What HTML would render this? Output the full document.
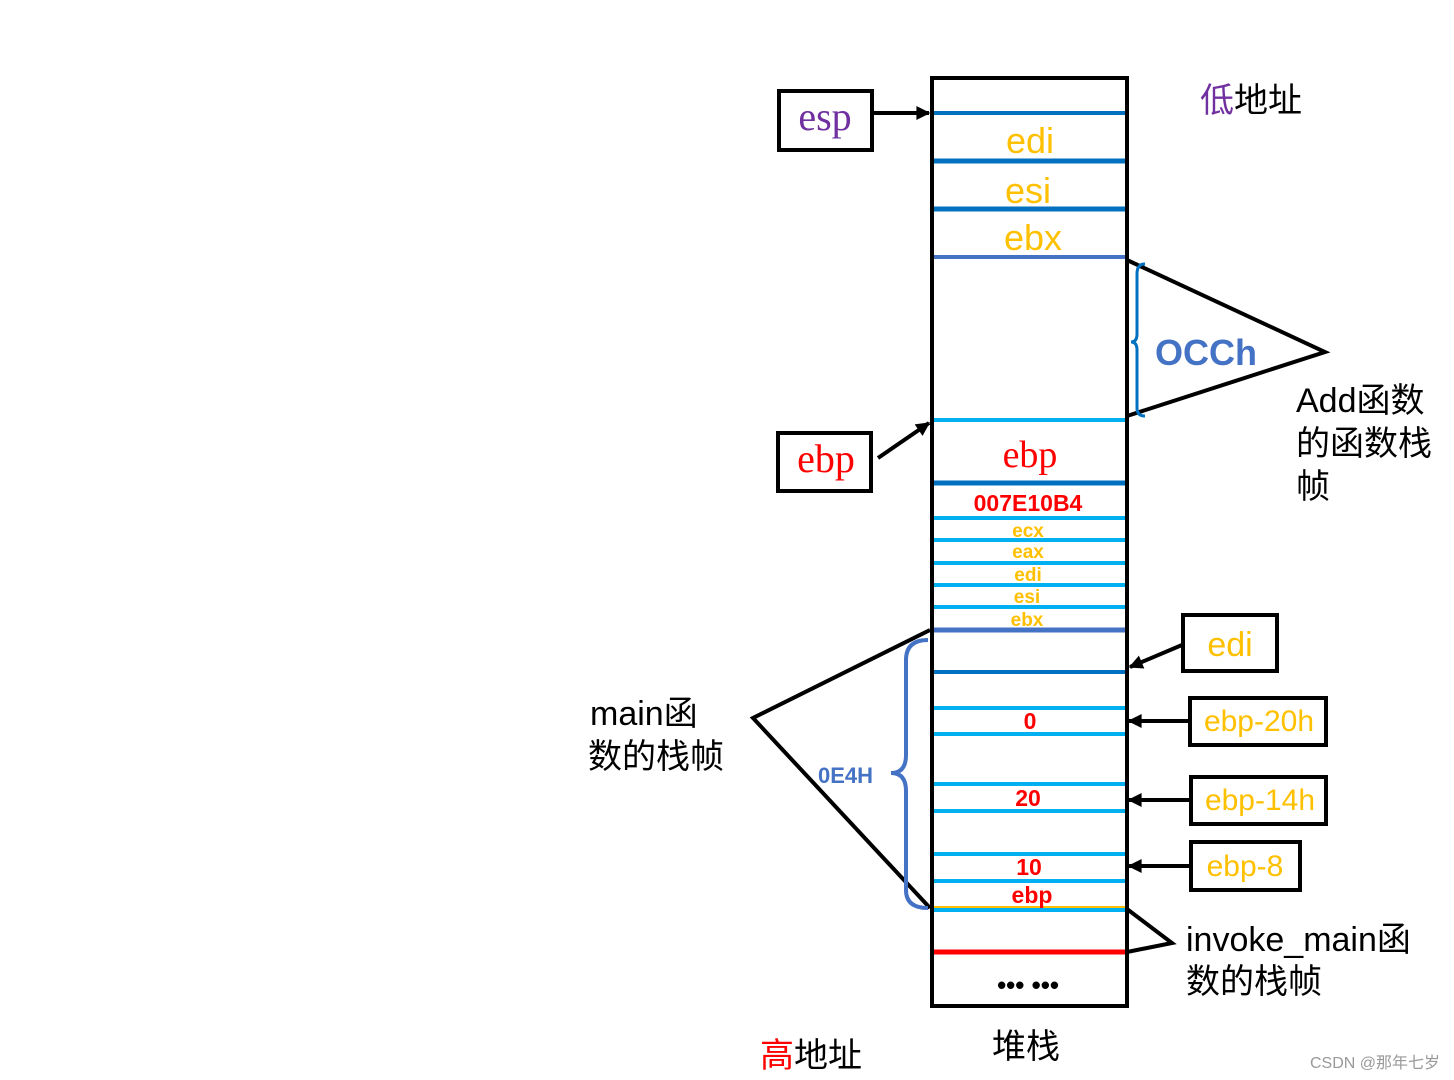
<!DOCTYPE html>
<html><head><meta charset="utf-8"><style>
html,body{margin:0;padding:0;background:#fff;width:1454px;height:1080px;overflow:hidden}
text{font-family:"Liberation Sans","Noto Sans CJK SC",sans-serif}
</style></head><body>
<svg width="1454" height="1080" viewBox="0 0 1454 1080" xmlns="http://www.w3.org/2000/svg">
<defs><marker id="a" markerWidth="8" markerHeight="8" refX="7" refY="4" orient="auto" markerUnits="userSpaceOnUse"><path d="M0,0 L8,4 L0,8 z" fill="#000"/></marker>
<marker id="b" viewBox="0 0 10 10" markerWidth="16" markerHeight="14" refX="9" refY="5" orient="auto" markerUnits="userSpaceOnUse"><path d="M0,0 L10,5 L0,10 z" fill="#000"/></marker></defs>
<!-- stack lines -->
<g stroke-width="4">
<line x1="933" x2="1127" y1="113" y2="113" stroke="#0070c0"/>
<line x1="933" x2="1129" y1="161" y2="161" stroke="#0070c0" stroke-width="5"/>
<line x1="933" x2="1129" y1="209" y2="209" stroke="#0070c0" stroke-width="5"/>
<line x1="933" x2="1127" y1="257" y2="257" stroke="#4472c4"/>
<line x1="933" x2="1127" y1="420" y2="420" stroke="#00b0f0"/>
<line x1="933" x2="1127" y1="483" y2="483" stroke="#0070c0" stroke-width="5"/>
<line x1="933" x2="1127" y1="518" y2="518" stroke="#00b0f0"/>
<line x1="933" x2="1127" y1="540" y2="540" stroke="#00b0f0"/>
<line x1="933" x2="1127" y1="563" y2="563" stroke="#00b0f0"/>
<line x1="933" x2="1127" y1="585" y2="585" stroke="#00b0f0"/>
<line x1="933" x2="1127" y1="607" y2="607" stroke="#00b0f0"/>
<line x1="933" x2="1127" y1="630" y2="630" stroke="#4472c4" stroke-width="5"/>
<line x1="933" x2="1127" y1="672" y2="672" stroke="#0070c0"/>
<line x1="933" x2="1127" y1="708" y2="708" stroke="#00b0f0"/>
<line x1="933" x2="1127" y1="734" y2="734" stroke="#00b0f0"/>
<line x1="933" x2="1127" y1="784" y2="784" stroke="#00b0f0"/>
<line x1="933" x2="1127" y1="811" y2="811" stroke="#00b0f0"/>
<line x1="933" x2="1127" y1="854" y2="854" stroke="#00b0f0"/>
<line x1="933" x2="1127" y1="881" y2="881" stroke="#00b0f0"/>
<line x1="933" x2="1127" y1="907" y2="907" stroke="#ffc000" stroke-width="2"/>
<line x1="933" x2="1127" y1="910" y2="910" stroke="#00b0f0"/>
<line x1="933" x2="1127" y1="952" y2="952" stroke="#ff0000" stroke-width="5"/>
</g>
<rect x="932" y="78" width="195" height="928" fill="none" stroke="#000" stroke-width="4"/>
<!-- stack texts -->
<g fill="#ffc000" font-size="36" text-anchor="middle">
<text x="1030" y="153">edi</text><text x="1028" y="203">esi</text><text x="1033" y="250">ebx</text>
</g>
<text x="1030" y="467" font-size="38" fill="#ff0000" text-anchor="middle" font-family="Liberation Serif,serif" style="font-family:'Liberation Serif',serif">ebp</text>
<text x="1028" y="511" font-size="23" font-weight="bold" fill="#ff0000" text-anchor="middle">007E10B4</text>
<g fill="#ffc000" font-size="19" font-weight="bold" text-anchor="middle">
<text x="1028" y="537">ecx</text><text x="1028" y="558">eax</text><text x="1028" y="581">edi</text><text x="1027" y="603">esi</text><text x="1027" y="626">ebx</text>
</g>
<g fill="#ff0000" font-size="23" font-weight="bold" text-anchor="middle">
<text x="1030" y="729">0</text><text x="1028" y="806">20</text><text x="1029" y="875">10</text><text x="1032" y="903">ebp</text>
</g>
<text x="1028" y="994" font-size="26" font-weight="bold" text-anchor="middle" fill="#000">••• •••</text>
<!-- left boxes -->
<rect x="779" y="91" width="93" height="59" fill="none" stroke="#000" stroke-width="4"/>
<text x="825" y="130" font-size="40" fill="#7030a0" text-anchor="middle" style="font-family:'Liberation Serif',serif">esp</text>
<line x1="873" y1="113" x2="929" y2="113" stroke="#000" stroke-width="4" marker-end="url(#b)"/>
<rect x="778" y="433" width="93" height="58" fill="none" stroke="#000" stroke-width="4"/>
<text x="826" y="472" font-size="40" fill="#ff0000" text-anchor="middle" style="font-family:'Liberation Serif',serif">ebp</text>
<line x1="878" y1="458" x2="929" y2="423" stroke="#000" stroke-width="4" marker-end="url(#b)"/>
<!-- right boxes -->
<g fill="none" stroke="#000" stroke-width="4">
<rect x="1183" y="615" width="94" height="56"/>
<rect x="1190" y="698" width="136" height="47"/>
<rect x="1191" y="777" width="135" height="47"/>
<rect x="1191" y="842" width="109" height="48"/>
</g>
<g fill="#ffc000" font-size="30">
<text x="1230" y="656" text-anchor="middle" font-size="34">edi</text>
<text x="1259" y="731" text-anchor="middle">ebp-20h</text>
<text x="1260" y="810" text-anchor="middle">ebp-14h</text>
<text x="1245" y="876" text-anchor="middle">ebp-8</text>
</g>
<g stroke="#000" stroke-width="4">
<line x1="1182" y1="645" x2="1130" y2="667" marker-end="url(#b)"/>
<line x1="1189" y1="721" x2="1129" y2="721" marker-end="url(#b)"/>
<line x1="1190" y1="800" x2="1129" y2="800" marker-end="url(#b)"/>
<line x1="1190" y1="866" x2="1129" y2="866" marker-end="url(#b)"/>
</g>
<!-- triangles -->
<g fill="none" stroke="#000" stroke-width="4" stroke-linejoin="miter">
<polyline points="1127,260 1325,352 1127,416"/>
<polyline points="930,630 753,718 930,908"/>
<polyline points="1127,909 1172,943 1127,952"/>
</g>
<!-- braces -->
<path d="M1145,264 Q1137,264 1137,274 L1137,334 Q1137,342 1131,342 Q1137,342 1137,350 L1137,408 Q1137,416 1145,416" fill="none" stroke="#0070c0" stroke-width="3"/>
<path d="M928,640 Q906,640 906,660 L906,755 Q906,773 891,773 Q906,773 906,791 L906,890 Q906,908 928,908" fill="none" stroke="#4472c4" stroke-width="4"/>
<text x="1155" y="365" font-size="36" font-weight="bold" fill="#4472c4">OCCh</text>
<text x="818" y="783" font-size="22" font-weight="bold" fill="#4472c4">0E4H</text>
<!-- labels -->
<g font-size="34" fill="#000">
<text x="1296" y="412">Add函数</text><text x="1296" y="455">的函数栈</text><text x="1296" y="498">帧</text>
<text x="590" y="725">main函</text><text x="588" y="768">数的栈帧</text>
<text x="1186" y="951">invoke_main函</text><text x="1186" y="993">数的栈帧</text>
<text x="1200" y="112"><tspan fill="#7030a0">低</tspan>地址</text>
<text x="760" y="1067"><tspan fill="#ff0000">高</tspan>地址</text>
<text x="992" y="1058">堆栈</text>
</g>
<text x="1440" y="1068" font-size="16" fill="#999" text-anchor="end">CSDN @那年七岁</text>
</svg>
</body></html>
